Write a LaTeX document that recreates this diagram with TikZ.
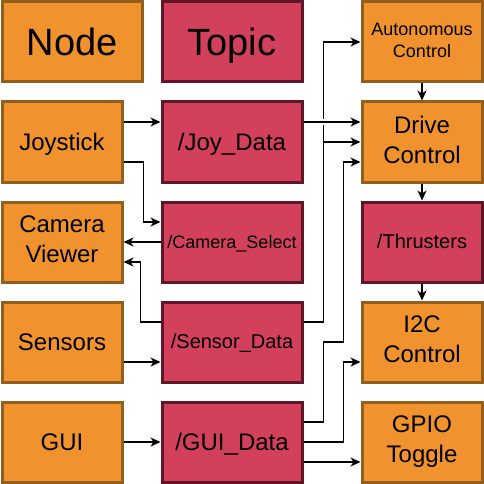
\documentclass[tikz,border=0pt]{standalone}
\usepackage{fontspec}
\setmainfont{Liberation Sans}
\usetikzlibrary{arrows.meta}
\definecolor{nodefill}{RGB}{240,146,45}
\definecolor{nodeline}{RGB}{148,94,30}
\definecolor{topicfill}{RGB}{210,64,92}
\definecolor{topicline}{RGB}{96,22,38}
\newcommand{\boxstrut}{\vrule width 0pt height 0.905em depth 0.212em}
\newcommand{\boxstrutend}{\vrule width 0pt height 0pt depth 0.07em}
\tikzset{arrowout/.style={->,>={Stealth[length=10pt,width=9pt,inset=3pt]},line width=1.5pt},nodebox/.style={rectangle, draw=nodeline, fill=nodefill, line width=3pt, minimum width=120pt, minimum height=80pt, align=center, font=\fontsize{24}{30}\selectfont, execute at begin node=\boxstrut, execute at end node=\boxstrutend},topicbox/.style={nodebox, draw=topicline, fill=topicfill, minimum width=140pt}}

\begin{document}
\begin{tikzpicture} [x=1pt,y=-1pt]
\useasboundingbox (0,0) rectangle (484,484);

% legend
\node (legnode) at (72,42)[nodebox,minimum width=140pt,font=\fontsize{38}{46}\selectfont]{Node};
\node (legtopic) at (232,42)[topicbox,font=\fontsize{38}{46}\selectfont]{Topic};

% left column
\node (joystick) at (62,142)[nodebox]{Joystick};
\node (camview) at (62,242)[nodebox]{Camera\\Viewer};
\node (sensors) at (62,342)[nodebox]{Sensors};
\node (gui) at (62,442)[nodebox]{GUI};

% topics
\node (joydata) at (232,142)[topicbox]{/Joy\_Data};
\node (camsel) at (232,242)[topicbox,font=\fontsize{18}{22.5}\selectfont]{/Camera\_Select};
\node (sensdata) at (232,342)[topicbox,font=\fontsize{20}{25}\selectfont]{/Sensor\_Data};
\node (guidata) at (232,442)[topicbox]{/GUI\_Data};

% right column
\node (auto) at (422,42)[nodebox,font=\fontsize{18}{22.5}\selectfont]{Autonomous\\Control};
\node (drive) at (422,142)[nodebox]{Drive\\Control};
\node (thrust) at (422,242)[topicbox,minimum width=120pt,font=\fontsize{20}{25}\selectfont]{/Thrusters};
\node (i2c) at (422,342)[nodebox]{I2C\\Control};
\node (gpio) at (422,442)[nodebox]{GPIO\\Toggle};

% left side
\draw[arrowout] ([yshift=20pt]joystick.east) -- ([yshift=20pt]joydata.west);
\draw[arrowout] ([yshift=-20pt]joystick.east) -- ++(20,0) |- ([yshift=20pt]camsel.west);
\draw[arrowout] (camsel.west) -- (camview.east);
\draw[arrowout] ([yshift=20pt]sensdata.west) -- ++(-20,0) |- ([yshift=-20pt]camview.east);
\draw[arrowout] ([yshift=-20pt]sensors.east) -- ([yshift=-20pt]sensdata.west);
\draw[arrowout] (gui.east) -- (guidata.west);

% right side
\draw[arrowout] ([yshift=20pt]sensdata.east) -- ++(20,0) |- (auto.west);
\draw[arrowout] ([yshift=20pt]sensdata.east) -- ++(20,0) |- (drive.west);
\draw[arrowout] ([yshift=20pt]guidata.east) -- ++(20,0) -- ++(0,-80) -- ++(20,0) |- ([yshift=-20pt]drive.west);
\draw[arrowout] (guidata.east) -- ++(40,0) |- ([yshift=-20pt]i2c.west);
\draw[arrowout] ([yshift=-20pt]guidata.east) -- ([yshift=-20pt]gpio.west);
\draw[arrowout, preaction={draw=white,-,line width=6pt,shorten <=12pt,shorten >=28pt}] ([yshift=20pt]joydata.east) -- ([yshift=20pt]drive.west);

% chain
\draw[arrowout] (auto.south) -- (drive.north);
\draw[arrowout] (drive.south) -- (thrust.north);
\draw[arrowout] (thrust.south) -- (i2c.north);

\end{tikzpicture}
\end{document}
